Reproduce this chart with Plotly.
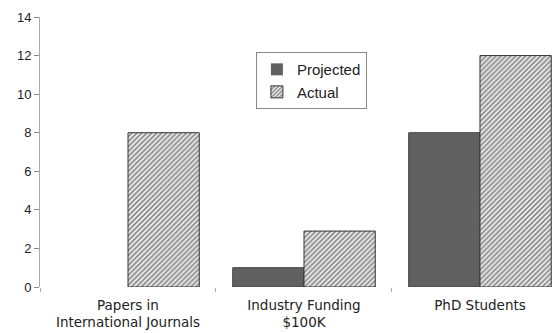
import plotly.graph_objects as go

categories = ["Papers in<br>International Journals", "Industry Funding<br>$100K", "PhD Students"]
projected = [0, 1, 8]
actual = [8, 2.9, 12]
y_ticks = [0, 2, 4, 6, 8, 10, 12, 14]

fig = go.Figure()
fig.add_trace(go.Bar(
    x=categories, y=projected, name="Projected",
    marker=dict(color="#616161", line=dict(color="#404040", width=[0 if v == 0 else 1 for v in projected])),
))
fig.add_trace(go.Bar(
    x=categories, y=actual, name="Actual",
    marker=dict(color="white", line=dict(color="#333", width=1),
                pattern=dict(shape="/", fgcolor="#222222", bgcolor="white", size=3.5, solidity=0.6)),
))

fig.update_layout(
    width=559, height=333,
    margin=dict(l=40, r=0, t=17, b=46),
    paper_bgcolor="white", plot_bgcolor="white",
    barmode="group", bargap=0.19, bargroupgap=0,
    font=dict(family="Liberation Sans, Arial, sans-serif", size=13, color="#222"),
    showlegend=True,
    legend=dict(x=0.416, y=0.87, xanchor="left", yanchor="top",
                bordercolor="#888", borderwidth=1, bgcolor="white",
                font=dict(size=15), tracegroupgap=0, itemwidth=30),
    xaxis=dict(range=[-0.5, 2.449], showline=False, ticks="outside", tickson="boundaries",
               ticklen=4, tickcolor="#aaa", showgrid=False, zeroline=False,
               ticklabelstandoff=8,
               tickfont=dict(size=13.5, family="DejaVu Sans, sans-serif")),
    yaxis=dict(range=[0, 14], tickvals=y_ticks, showline=True, linecolor="#aaa", linewidth=1,
               ticks="outside", ticklen=5, tickcolor="#888", showgrid=False, zeroline=False,
               tickfont=dict(size=13)),
)
fig.write_html("out.html")
